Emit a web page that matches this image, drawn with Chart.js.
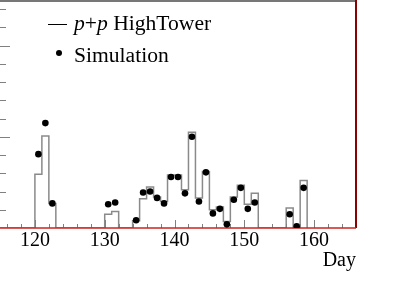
<!DOCTYPE html>
<html>
<head>
<meta charset="utf-8">
<script src="https://cdn.jsdelivr.net/npm/chart.js@4/dist/chart.umd.min.js"></script>
<style>
  html, body { margin: 0; padding: 0; background: #fff; }
</style>
</head>
<body>
<canvas id="dayChart" width="415" height="284"></canvas>
<script>
// ================== Data ==================
// histogram outline: left edge of each bin (day) and bin height, zeros close each group
const histDays   = [115, 120, 121, 122, 123, 130, 131, 132,
                    134, 135, 136, 137, 138, 139, 140, 141, 142, 143, 144, 145, 146, 147, 148, 149, 150, 151, 152,
                    156, 157, 158, 159];
const histValues = [0, 0.59, 1.01, 0.27, 0, 0.15, 0.18, 0,
                    0.08, 0.32, 0.45, 0.34, 0.29, 0.58, 0.58, 0.42, 1.05, 0.33, 0.62, 0.20, 0.23, 0.07, 0.34, 0.47, 0.26, 0.38, 0,
                    0.22, 0, 0.52, 0];

// simulation points, at bin centres
const simDays   = [120.5, 121.5, 122.5, 130.5, 131.5,
                   134.5, 135.5, 136.5, 137.5, 138.5, 139.5, 140.5, 141.5, 142.5, 143.5, 144.5, 145.5, 146.5, 147.5, 148.5, 149.5, 150.5, 151.5,
                   156.5, 157.5, 158.5];
const simValues = [0.81, 1.15, 0.27, 0.26, 0.28,
                   0.085, 0.39, 0.40, 0.33, 0.27, 0.56, 0.56, 0.38, 1.00, 0.29, 0.61, 0.16, 0.21, 0.04, 0.31, 0.44, 0.21, 0.28,
                   0.15, 0.02, 0.44];

const dayTicks = [120, 130, 140, 150, 160];

const serif = '"Liberation Serif", "DejaVu Serif", serif';

// ================== Frame, inward ticks, legend ==================
const framePlugin = {
  id: "frame",
  afterDatasetDraw(chart, args) {
    if (args.index !== 1) return; // after the histogram, before the points
    const { ctx, chartArea: a, scales: { x, y } } = chart;
    ctx.save();

    // ticks pointing into the plot
    ctx.strokeStyle = "#808080";
    ctx.lineWidth = 1;
    ctx.beginPath();
    for (let d = 116; d <= 164; d += 2) {
      const px = Math.round(x.getPixelForValue(d)) + 0.5;
      const len = d % 10 === 0 ? 8 : 4;
      ctx.moveTo(px, a.bottom);
      ctx.lineTo(px, a.bottom - len);
    }
    for (let i = 1; i <= 12; i++) {
      const py = Math.round(y.getPixelForValue(i * 0.2)) + 0.5;
      const len = i % 5 === 0 ? 10 : 6;
      ctx.moveTo(a.left, py);
      ctx.lineTo(a.left + len, py);
    }
    ctx.stroke();

    // top edge
    ctx.strokeStyle = "#777";
    ctx.lineWidth = 2;
    ctx.beginPath();
    ctx.moveTo(a.left, a.top + 1);
    ctx.lineTo(a.right, a.top + 1);
    ctx.stroke();

    // right edge
    ctx.strokeStyle = "#8b0000";
    ctx.beginPath();
    ctx.moveTo(a.right, a.top);
    ctx.lineTo(a.right, a.bottom);
    ctx.stroke();

    // x axis line
    ctx.strokeStyle = "#cc2020";
    ctx.lineWidth = 1.5;
    ctx.beginPath();
    ctx.moveTo(a.left, a.bottom);
    ctx.lineTo(a.right, a.bottom);
    ctx.stroke();
    ctx.restore();
  },
  afterDraw(chart) {
    const { ctx, chartArea: a } = chart;
    const ds = chart.data.datasets;
    ctx.save();
    ctx.fillStyle = "#000";
    ctx.textBaseline = "alphabetic";

    // histogram entry: line sample + "p+p HighTower" with italic p
    ctx.strokeStyle = "#000";
    ctx.lineWidth = 1;
    ctx.beginPath();
    ctx.moveTo(a.left + 48, 24.5);
    ctx.lineTo(a.left + 67, 24.5);
    ctx.stroke();
    let tx = a.left + 74;
    ds[1].label.split(/(\bp\b)/).forEach(part => {
      if (!part) return;
      ctx.font = (part === "p" ? "italic " : "") + "21.6px " + serif;
      ctx.fillText(part, tx, 30);
      tx += ctx.measureText(part).width;
    });

    // simulation entry
    ctx.beginPath();
    ctx.arc(a.left + 59, 53, 3, 0, Math.PI * 2);
    ctx.fill();
    ctx.font = "21.6px " + serif;
    ctx.fillText(ds[0].label, a.left + 74, 62);
    ctx.restore();
  }
};

// ================== Chart ==================
const ctx = document.getElementById("dayChart").getContext("2d");

new Chart(ctx, {
  type: "scatter",
  data: {
    datasets: [
      {
        label: "Simulation",
        data: simDays.map((d, i) => ({ x: d, y: simValues[i] })),
        backgroundColor: "#000",
        borderColor: "#000",
        pointRadius: 3.3,
        pointBorderWidth: 0
      },
      {
        label: "p+p HighTower",
        type: "line",
        data: histDays.map((d, i) => ({ x: d, y: histValues[i] })),
        stepped: "before",
        showLine: true,
        borderColor: "#8a8a8a",
        borderWidth: 1.5,
        pointRadius: 0,
        fill: false
      }
    ]
  },
  options: {
    responsive: false,
    animation: false,
    devicePixelRatio: 1,
    layout: { autoPadding: false, padding: { left: 0, right: 59, top: 0, bottom: 13 } },
    plugins: {
      legend: { display: false },
      tooltip: { enabled: false }
    },
    scales: {
      x: {
        type: "linear",
        min: 115,
        max: 166,
        grid: { display: false },
        border: { display: false },
        afterBuildTicks: scale => {
          scale.ticks = dayTicks.map(v => ({ value: v }));
        },
        ticks: {
          color: "#000",
          padding: -5.5,
          maxRotation: 0,
          autoSkip: false,
          font: { family: serif, size: 20, lineHeight: 1 }
        },
        title: {
          display: true,
          text: "Day",
          align: "end",
          color: "#000",
          padding: { top: 6, bottom: 0 },
          font: { family: serif, size: 20, lineHeight: 1 }
        }
      },
      y: {
        type: "linear",
        min: 0,
        max: 2.5,
        display: false
      }
    }
  },
  plugins: [framePlugin]
});
</script>
</body>
</html>
